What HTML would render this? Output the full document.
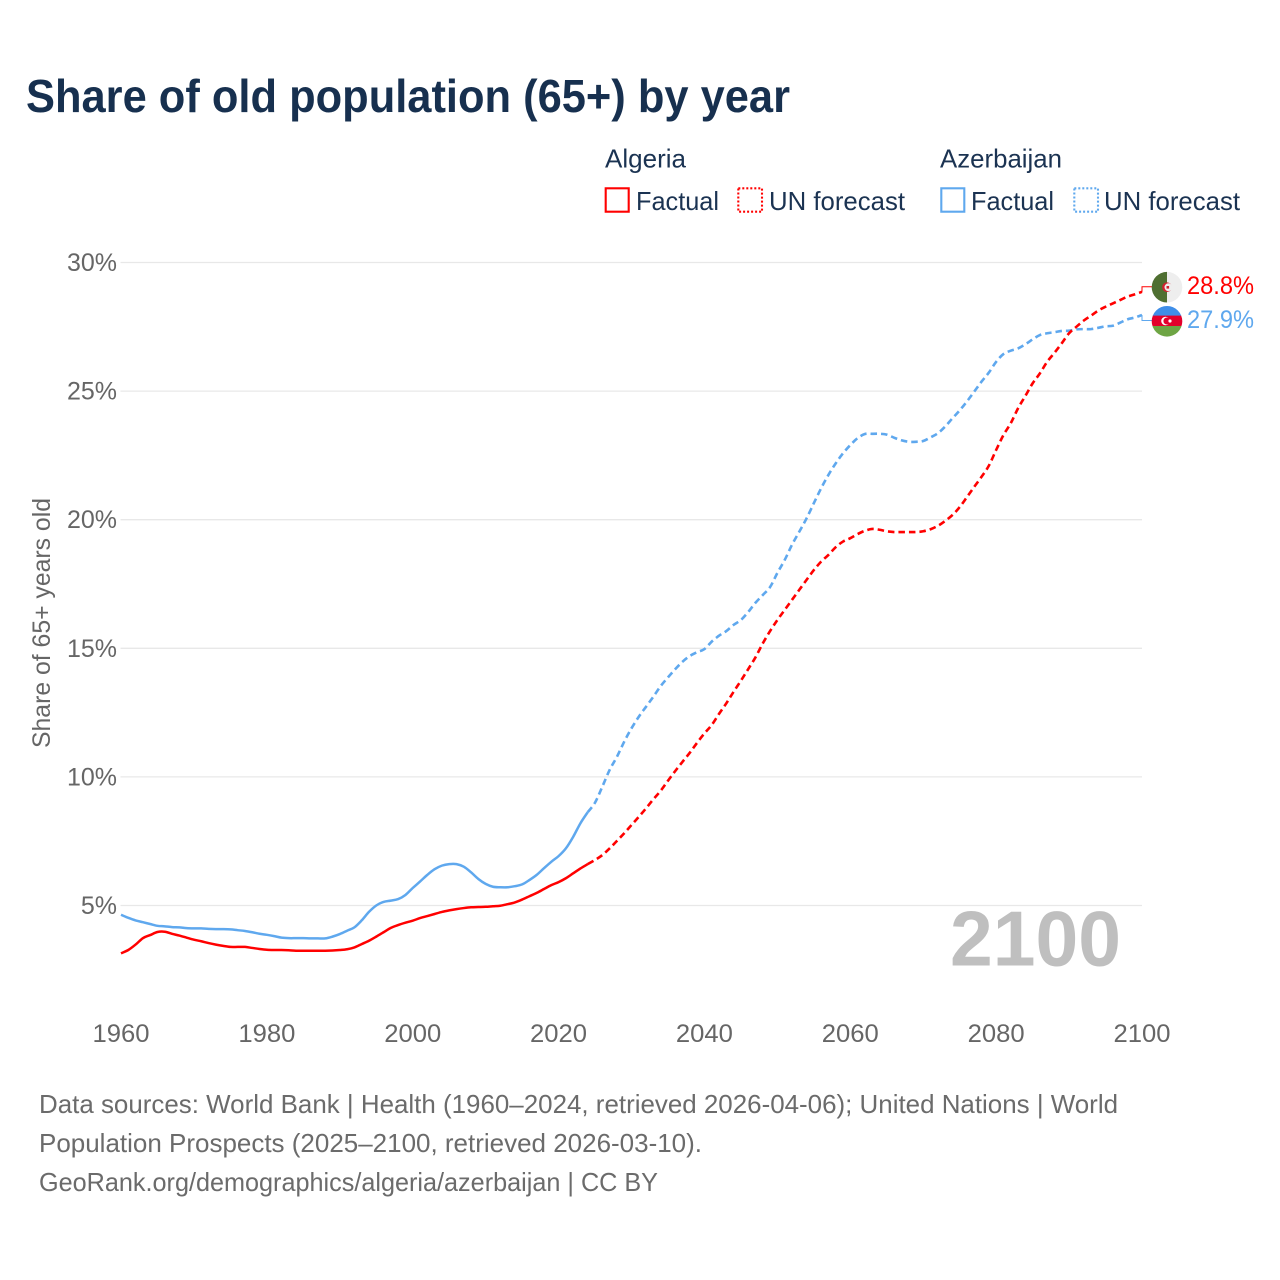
<!DOCTYPE html>
<html lang="en">
<head>
<meta charset="utf-8">
<title>Share of old population (65+) by year</title>
<style>
html,body{margin:0;padding:0;background:#fff;}
svg{display:block;font-family:"Liberation Sans",sans-serif;}
</style>
</head>
<body>
<svg id="chart" width="1280" height="1280" viewBox="0 0 1280 1280" xmlns="http://www.w3.org/2000/svg">
  <rect x="0" y="0" width="1280" height="1280" fill="#ffffff"/>
  <text x="26" y="112" font-size="46" font-weight="700" fill="#17304f" textLength="764" lengthAdjust="spacingAndGlyphs">Share of old population (65+) by year</text>

  <g font-size="26" fill="#1b3352">
    <text x="605" y="167.5" textLength="81" lengthAdjust="spacingAndGlyphs">Algeria</text>
    <text x="940" y="167.5" textLength="122" lengthAdjust="spacingAndGlyphs">Azerbaijan</text>
    <rect x="605.7" y="188.3" width="23" height="23.4" fill="none" stroke="#ff0000" stroke-width="2.1"/>
    <text x="636" y="210" textLength="83" lengthAdjust="spacingAndGlyphs">Factual</text>
    <rect x="738.3" y="188.3" width="23.7" height="23.4" fill="none" stroke="#ff0000" stroke-width="2.1" stroke-dasharray="2 2"/>
    <text x="769" y="210" textLength="136" lengthAdjust="spacingAndGlyphs">UN forecast</text>
    <rect x="941.3" y="188.3" width="23" height="23.4" fill="none" stroke="#5fa8ee" stroke-width="2.1"/>
    <text x="971" y="210" textLength="83" lengthAdjust="spacingAndGlyphs">Factual</text>
    <rect x="1074.3" y="188.3" width="23.7" height="23.4" fill="none" stroke="#5fa8ee" stroke-width="2.1" stroke-dasharray="2 2"/>
    <text x="1104" y="210" textLength="136" lengthAdjust="spacingAndGlyphs">UN forecast</text>
  </g>

  <g id="grid"></g>
  <g id="y-ticks" font-size="25" fill="#666666" text-anchor="end"></g>
  <g id="x-ticks" font-size="25" fill="#666666" text-anchor="middle"></g>
  <text transform="translate(50 623) rotate(-90)" font-size="25" fill="#666666" text-anchor="middle" textLength="250" lengthAdjust="spacingAndGlyphs">Share of 65+ years old</text>

  <text x="1121" y="965.5" font-size="78" font-weight="700" fill="#bfbfbf" text-anchor="end" textLength="171" lengthAdjust="spacingAndGlyphs">2100</text>

  <g id="series"></g>

  <defs>
    <clipPath id="clip-dz"><circle cx="1167" cy="287.2" r="15.3"/></clipPath>
    <clipPath id="clip-az"><circle cx="1167" cy="321.3" r="15.3"/></clipPath>
  </defs>
  <g clip-path="url(#clip-dz)">
    <rect x="1151" y="271" width="16" height="32" fill="#4f6f31"/>
    <rect x="1167" y="271" width="16" height="32" fill="#eeeeee"/>
    <circle cx="1167" cy="287.2" r="4.8" fill="#d2202f"/>
    <circle cx="1168.4" cy="287.2" r="3.9" fill="#eeeeee"/>
    <rect x="1166.5" y="286" width="2.6" height="2.6" fill="#d2202f"/>
  </g>
  <g clip-path="url(#clip-az)">
    <rect x="1151" y="305" width="32" height="11" fill="#3f8ee8"/>
    <rect x="1151" y="315.6" width="32" height="10.6" fill="#e4002b"/>
    <rect x="1151" y="326" width="32" height="11" fill="#6ea544"/>
    <circle cx="1165.5" cy="321" r="4.3" fill="#ffffff"/>
    <circle cx="1166.9" cy="321" r="3.5" fill="#e4002b"/>
    <circle cx="1170" cy="321" r="1.6" fill="#ffffff"/>
  </g>
  <text x="1187" y="294" font-size="25" fill="#ff0000" textLength="67" lengthAdjust="spacingAndGlyphs">28.8%</text>
  <text x="1187" y="328" font-size="25" fill="#5fa8ee" textLength="67" lengthAdjust="spacingAndGlyphs">27.9%</text>

  <g font-size="26" fill="#6b6b6b">
    <text x="39" y="1113" textLength="1079" lengthAdjust="spacingAndGlyphs">Data sources: World Bank | Health (1960–2024, retrieved 2026-04-06); United Nations | World</text>
    <text x="39" y="1152" textLength="663" lengthAdjust="spacingAndGlyphs">Population Prospects (2025–2100, retrieved 2026-03-10).</text>
    <text x="39" y="1191" textLength="619" lengthAdjust="spacingAndGlyphs">GeoRank.org/demographics/algeria/azerbaijan | CC BY</text>
  </g>
</svg>
<script>
const factualStartYear = 1960;
const forecastStartYear = 2024;
const yTickValues = [5, 10, 15, 20, 25, 30];
const yTickLabels = ['5%', '10%', '15%', '20%', '25%', '30%'];
const xTickValues = [1960, 1980, 2000, 2020, 2040, 2060, 2080, 2100];
const xTickLabels = ['1960', '1980', '2000', '2020', '2040', '2060', '2080', '2100'];

const algeriaFactual = [
  3.14,3.27,3.48,3.73,3.85,3.97,3.98,3.90,3.83,3.75,
  3.67,3.61,3.54,3.48,3.43,3.39,3.39,3.39,3.35,3.31,
  3.28,3.27,3.27,3.26,3.24,3.24,3.24,3.24,3.24,3.25,
  3.27,3.30,3.37,3.50,3.63,3.79,3.96,4.13,4.24,4.33,
  4.41,4.51,4.59,4.67,4.75,4.81,4.86,4.90,4.93,4.94,
  4.95,4.97,4.99,5.05,5.12,5.23,5.36,5.49,5.64,5.79,
  5.91,6.06,6.25,6.44,6.61
];
const azerbaijanFactual = [
  4.64,4.52,4.42,4.35,4.28,4.21,4.19,4.16,4.15,4.12,
  4.11,4.11,4.09,4.08,4.08,4.07,4.04,4.01,3.96,3.90,
  3.86,3.81,3.75,3.73,3.73,3.73,3.72,3.72,3.72,3.79,
  3.89,4.02,4.15,4.42,4.75,5.00,5.14,5.19,5.25,5.41,
  5.68,5.93,6.19,6.41,6.55,6.61,6.61,6.51,6.29,6.03,
  5.84,5.73,5.71,5.71,5.75,5.82,5.99,6.19,6.45,6.70,
  6.92,7.22,7.67,8.20,8.63
];
const algeriaForecast = [
  6.61,6.77,6.96,7.22,7.51,7.81,
  8.13,8.45,8.78,9.13,9.46,9.85,10.23,10.59,10.94,11.33,
  11.69,12.02,12.45,12.86,13.31,13.74,14.19,14.65,15.19,15.67,
  16.10,16.49,16.88,17.27,17.66,18.04,18.37,18.63,18.93,19.15,
  19.28,19.44,19.57,19.64,19.61,19.55,19.52,19.52,19.52,19.52,
  19.55,19.63,19.76,19.95,20.18,20.49,20.88,21.28,21.67,22.10,
  22.71,23.29,23.75,24.33,24.81,25.30,25.69,26.14,26.49,26.86,
  27.25,27.50,27.74,27.93,28.13,28.28,28.41,28.54,28.67,28.76,
  28.86
];
const azerbaijanForecast = [
  8.63,9.00,9.62,10.27,10.78,11.37,
  11.89,12.34,12.73,13.12,13.53,13.87,14.19,14.48,14.70,14.85,
  14.97,15.26,15.49,15.67,15.91,16.10,16.41,16.77,17.07,17.38,
  17.93,18.43,19.02,19.53,20.05,20.64,21.22,21.74,22.19,22.58,
  22.90,23.17,23.33,23.34,23.34,23.31,23.19,23.09,23.03,23.03,
  23.06,23.20,23.36,23.62,23.94,24.25,24.60,24.98,25.37,25.72,
  26.14,26.44,26.57,26.66,26.82,27.01,27.18,27.25,27.29,27.34,
  27.35,27.40,27.41,27.41,27.46,27.52,27.54,27.66,27.79,27.86,
  27.96
];

const SVG_NS = 'http://www.w3.org/2000/svg';
function xScale(year) { return 121 + (year - 1960) * (1021 / 140); }
function yScale(pct) { return 905.5 - (pct - 5) * 25.72; }
function linePath(values, startYear) {
  const pts = values.map(function (v, i) {
    return [xScale(startYear + i), yScale(v)];
  });
  let d = 'M' + pts[0][0].toFixed(2) + ' ' + pts[0][1].toFixed(2);
  for (let i = 0; i < pts.length - 1; i++) {
    const p0 = pts[Math.max(i - 1, 0)];
    const p1 = pts[i];
    const p2 = pts[i + 1];
    const p3 = pts[Math.min(i + 2, pts.length - 1)];
    const c1x = p1[0] + (p2[0] - p0[0]) / 6;
    const c1y = p1[1] + (p2[1] - p0[1]) / 6;
    const c2x = p2[0] - (p3[0] - p1[0]) / 6;
    const c2y = p2[1] - (p3[1] - p1[1]) / 6;
    d += ' C' + c1x.toFixed(2) + ' ' + c1y.toFixed(2) + ' ' + c2x.toFixed(2) + ' ' + c2y.toFixed(2) + ' ' + p2[0].toFixed(2) + ' ' + p2[1].toFixed(2);
  }
  return d;
}

const gridLayer = document.getElementById('grid');
const yTickLayer = document.getElementById('y-ticks');
const xTickLayer = document.getElementById('x-ticks');
const seriesLayer = document.getElementById('series');

yTickValues.forEach(function (v, i) {
  const line = document.createElementNS(SVG_NS, 'line');
  
  
  line.setAttribute('x1', 120.5);
  line.setAttribute('x2', 1142);
  line.setAttribute('y1', yScale(v));
  line.setAttribute('y2', yScale(v));
  line.setAttribute('stroke', '#e8e8e8');
  line.setAttribute('stroke-width', '1.3');
  gridLayer.appendChild(line);

  const label = document.createElementNS(SVG_NS, 'text');
  
  
  label.setAttribute('x', 117);
  label.setAttribute('y', yScale(v) + 8.5);
  label.textContent = yTickLabels[i];
  yTickLayer.appendChild(label);
});

xTickValues.forEach(function (v, i) {
  const label = document.createElementNS(SVG_NS, 'text');
  
  
  label.setAttribute('x', xScale(v));
  label.setAttribute('y', 1042);
  label.setAttribute('textLength', '57');
  label.setAttribute('lengthAdjust', 'spacingAndGlyphs');
  label.textContent = xTickLabels[i];
  xTickLayer.appendChild(label);
});

function drawSeries(el, values, startYear, color, dashed) {
  el.setAttribute('d', linePath(values, startYear));
  el.setAttribute('fill', 'none');
  el.setAttribute('stroke', color);
  el.setAttribute('stroke-width', dashed ? '2.6' : '2.5');
  el.setAttribute('stroke-linejoin', 'round');
  if (dashed) el.setAttribute('stroke-dasharray', '6.5 4');
  seriesLayer.appendChild(el);
}

const azFactualLine = document.createElementNS(SVG_NS, 'path');


drawSeries(azFactualLine, azerbaijanFactual, factualStartYear, '#5fa8ee', false);

const azForecastLine = document.createElementNS(SVG_NS, 'path');


drawSeries(azForecastLine, azerbaijanForecast, forecastStartYear, '#5fa8ee', true);

const dzFactualLine = document.createElementNS(SVG_NS, 'path');


drawSeries(dzFactualLine, algeriaFactual, factualStartYear, '#ff0000', false);

const dzForecastLine = document.createElementNS(SVG_NS, 'path');


drawSeries(dzForecastLine, algeriaForecast, forecastStartYear, '#ff0000', true);

function drawConnector(el, lastValue, labelY, color) {
  const endX = xScale(2100);
  el.setAttribute('d', 'M' + endX + ' ' + yScale(lastValue) + ' L' + endX + ' ' + labelY + ' L1152 ' + labelY);
  el.setAttribute('fill', 'none');
  el.setAttribute('stroke', color);
  el.setAttribute('stroke-width', '1');
  seriesLayer.appendChild(el);
}

const dzConnector = document.createElementNS(SVG_NS, 'path');


drawConnector(dzConnector, algeriaForecast[algeriaForecast.length - 1], 286.8, '#ff0000');

const azConnector = document.createElementNS(SVG_NS, 'path');


drawConnector(azConnector, azerbaijanForecast[azerbaijanForecast.length - 1], 320.5, '#5fa8ee');
</script>
</body>
</html>
